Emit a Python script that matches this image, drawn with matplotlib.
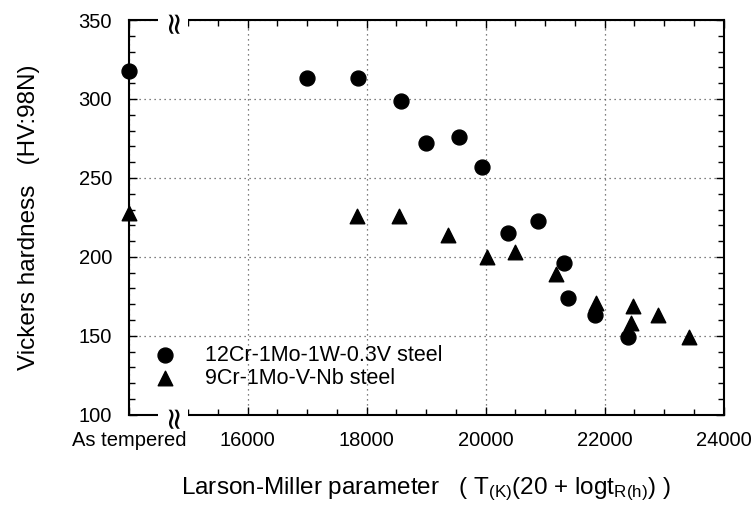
import matplotlib
matplotlib.use("Agg")
import matplotlib.pyplot as plt
from matplotlib.ticker import MultipleLocator, FixedLocator
from matplotlib.transforms import blended_transform_factory

plt.rcParams['font.family'] = ['Liberation Sans', 'DejaVu Sans']
plt.rcParams['mathtext.default'] = 'regular'

# data (x = Larson-Miller parameter, 14000 stands for "As tempered")
cr12_lmp = [14000, 17000, 17850, 18580, 19000, 19550, 19930, 20370, 20880,
            21320, 21380, 21830, 22400]
cr12_hv = [318, 313, 313, 299, 272, 276, 257, 215, 223, 196, 174, 163, 149]

cr9_lmp = [14000, 17830, 18550, 19370, 20030, 20500, 21180, 21850, 22470,
           22450, 22900, 23420]
cr9_hv = [228, 226, 226, 214, 200, 203, 189, 171, 169, 158, 163, 149]

xticks = [14000, 16000, 18000, 20000, 22000, 24000]
xticklabels = ['As tempered', '16000', '18000', '20000', '22000', '24000']
yticks = [100, 150, 200, 250, 300, 350]

fig = plt.figure(figsize=(7.53, 5.14), dpi=100)
ax = fig.add_axes([0.171, 0.193, 0.79, 0.768])

ax.scatter(cr12_lmp, cr12_hv, s=115, marker='o', color='black',
           label='12Cr-1Mo-1W-0.3V steel', clip_on=False, zorder=3)
ax.scatter(cr9_lmp, cr9_hv, s=110, marker='^', color='black',
           label='9Cr-1Mo-V-Nb steel', clip_on=False, zorder=3)

ax.set_xlim(14000, 24000)
ax.set_ylim(100, 350)
ax.xaxis.set_major_locator(FixedLocator(xticks))
ax.set_xticklabels(xticklabels)
ax.xaxis.set_minor_locator(MultipleLocator(500))
ax.yaxis.set_major_locator(FixedLocator(yticks))
ax.yaxis.set_minor_locator(MultipleLocator(10))

ax.tick_params(which='both', direction='in', top=True, right=True,
               labelsize=14.5, color='black', width=1.0)
ax.tick_params(which='major', length=6, pad=12)
ax.tick_params(which='minor', length=4)
for s in ax.spines.values():
    s.set_linewidth(1.5)

ax.grid(True, which='major', color='#555555', linestyle=(0, (1, 3)),
        linewidth=0.9)

# axis break marks
tr = blended_transform_factory(ax.transData, ax.transAxes)
for yy in (0, 1):
    ax.text(14750, yy, '\u2248', transform=tr, rotation=90, fontsize=22,
            ha='center', va='center', fontfamily='DejaVu Sans',
            bbox=dict(facecolor='white', edgecolor='none', pad=0.5),
            clip_on=False, zorder=5)

ax.set_ylabel('Vickers hardness   (HV:98N)', fontsize=17.5, labelpad=28)
ax.set_xlabel('Larson-Miller parameter   ( T$_{(K)}$(20 + logt$_{R(h)}$) )',
              fontsize=17.5, labelpad=18)

ax.legend(loc='lower left', bbox_to_anchor=(0.025, 0.066), frameon=False,
          fontsize=15.5, handletextpad=0.85, labelspacing=0.1,
          borderaxespad=0.0, borderpad=0.0)

fig.savefig('out.png', dpi=100)
